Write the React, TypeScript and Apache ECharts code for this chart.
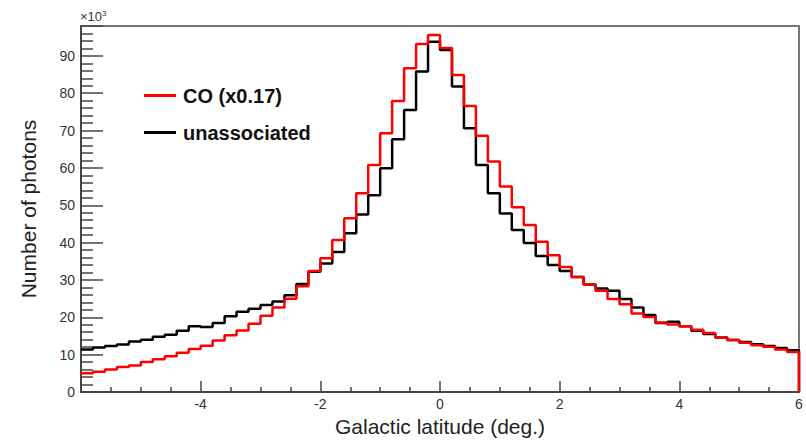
import React, { useEffect, useRef } from "react";
import * as echarts from "echarts";

// Bin left edges: -6.0 to 5.8, width 0.2
const binWidth = 0.2;
const xMin = -6;
const xMax = 6;

// Counts (x10^3) per bin
const unassociated = [
  11.4, 11.9, 12.3, 12.7, 13.5, 14.0, 14.8, 15.3, 16.4, 17.6,
  17.4, 18.5, 20.3, 21.5, 22.3, 23.3, 24.2, 25.9, 28.9, 32.2,
  34.4, 37.5, 42.5, 47.5, 52.7, 59.9, 67.7, 75.5, 85.8, 93.8,
  91.6, 81.8, 70.6, 60.8, 53.2, 47.8, 43.4, 39.9, 36.4, 34.0,
  32.4, 30.8, 28.8, 27.7, 27.1, 24.9, 22.6, 20.6, 18.5, 18.8,
  17.6, 16.4, 15.5, 14.6, 13.9, 13.4, 12.8, 12.3, 11.8, 11.2,
];

const coScaled = [
  5.0, 5.4, 6.0, 6.7, 7.1, 8.0, 8.8, 9.6, 10.5, 11.5,
  12.4, 13.8, 15.2, 16.5, 18.3, 20.4, 22.6, 25.0, 28.3, 32.4,
  35.8, 40.7, 46.5, 53.2, 60.8, 69.3, 77.9, 86.7, 93.2, 95.6,
  92.1, 84.9, 76.6, 68.6, 61.7, 55.0, 49.5, 44.7, 40.2, 36.6,
  33.5, 30.8, 28.8, 27.1, 24.9, 23.5, 21.0, 20.1, 18.6, 18.1,
  17.6, 16.7, 15.8, 14.6, 13.9, 13.2, 12.5, 12.1, 11.4, 10.7,
];

const yTickLabels = ["0", "10", "20", "30", "40", "50", "60", "70", "80", "90"];
const xTickLabels = ["-4", "-2", "0", "2", "4", "6"];

function histPoints(values: number[]): [number, number][] {
  const pts: [number, number][] = values.map((v, i) => [
    Math.round((xMin + i * binWidth) * 100) / 100,
    v,
  ]);
  pts.push([xMax, values[values.length - 1]]);
  pts.push([xMax, 0]);
  return pts;
}

const FONT = "Liberation Sans";

export default function App() {
  const ref = useRef<HTMLDivElement>(null);
  useEffect(() => {
    if (!ref.current) return;
    const chart = echarts.init(ref.current, null, { renderer: "svg" });
    chart.setOption({
      animation: false,
      backgroundColor: "#ffffff",
      grid: {
        left: 81,
        right: 7,
        top: 26,
        bottom: 48,
        containLabel: false,
        outerBoundsMode: "none",
        show: true,
        borderColor: "#777777",
        borderWidth: 2,
        backgroundColor: "transparent",
      },
      legend: {
        orient: "vertical",
        left: 139,
        top: 79,
        icon: "rect",
        itemWidth: 32,
        itemHeight: 3,
        itemGap: 14,
        textStyle: {
          fontFamily: FONT,
          fontSize: 20,
          fontWeight: "bold",
          color: "#111111",
          lineHeight: 23,
          padding: [0, 0, 0, 2],
        },
        data: [
          { name: "CO (x0.17)", itemStyle: { color: "#ff0000" } },
          { name: "unassociated", itemStyle: { color: "#000000" } },
        ],
      },
      graphic: [
        {
          type: "text",
          left: 80,
          top: 9,
          style: {
            text: "×10{s|3}",
            font: `13px "${FONT}"`,
            fill: "#333333",
            rich: { s: { fontSize: 8, verticalAlign: "top", padding: [0, 0, 6, 0] } },
          },
        },
      ],
      xAxis: {
        type: "value",
        min: xMin,
        max: xMax,
        interval: 2,
        name: "Galactic latitude (deg.)",
        nameLocation: "middle",
        nameGap: 22,
        nameTextStyle: { fontFamily: FONT, fontSize: 21, color: "#222222" },
        axisLine: { onZero: false, lineStyle: { color: "#444444", width: 2 } },
        axisTick: { inside: true, length: 11, lineStyle: { color: "#444444", width: 1.5 } },
        minorTick: { show: true, splitNumber: 4, length: 5, lineStyle: { color: "#444444", width: 1.5 } },
        splitLine: { show: false },
        axisLabel: {
          fontFamily: FONT,
          fontSize: 14,
          color: "#333333",
          margin: 5,
          formatter: (v: number) => {
            const s = String(v);
            return xTickLabels.includes(s) ? s : "";
          },
        },
      },
      yAxis: {
        type: "value",
        min: 0,
        max: 98,
        interval: 10,
        name: "Number of photons",
        nameLocation: "middle",
        nameRotate: 90,
        nameGap: 42,
        nameTextStyle: { fontFamily: FONT, fontSize: 21, color: "#222222" },
        axisLine: { show: true, onZero: false, lineStyle: { color: "#444444", width: 2 } },
        axisTick: { inside: true, length: 22, lineStyle: { color: "#444444", width: 1.5 } },
        minorTick: { show: true, splitNumber: 5, length: 12, lineStyle: { color: "#444444", width: 1.5 } },
        splitLine: { show: false },
        axisLabel: {
          fontFamily: FONT,
          fontSize: 14,
          color: "#333333",
          margin: 6,
          formatter: (v: number) => {
            const s = String(v);
            return yTickLabels.includes(s) ? s : "";
          },
        },
      },
      series: [
        {
          name: "unassociated",
          type: "line",
          step: "end",
          showSymbol: false,
          symbol: "none",
          data: histPoints(unassociated),
          lineStyle: { color: "#000000", width: 2.5 },
          itemStyle: { color: "#000000" },
          z: 2,
        },
        {
          name: "CO (x0.17)",
          type: "line",
          step: "end",
          showSymbol: false,
          symbol: "none",
          data: histPoints(coScaled),
          lineStyle: { color: "#ff0000", width: 2.5 },
          itemStyle: { color: "#ff0000" },
          z: 3,
        },
      ],
    });
    return () => chart.dispose();
  }, []);
  return (
    <div
      ref={ref}
      style={{ position: "fixed", left: 0, top: 0, width: 806, height: 440 }}
    />
  );
}
